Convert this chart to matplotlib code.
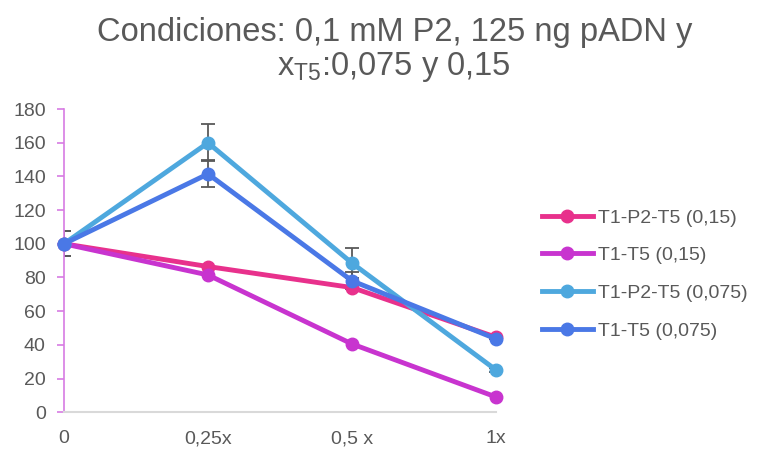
import matplotlib
matplotlib.use("Agg")
import matplotlib.pyplot as plt

plt.rcParams['font.family'] = ['Liberation Sans', 'DejaVu Sans']

categories = ["0", "0,25x", "0,5 x", "1x"]
series_names = ["T1-P2-T5 (0,15)", "T1-T5 (0,15)", "T1-P2-T5 (0,075)", "T1-T5 (0,075)"]
p2_015 = [100, 86.5, 74, 44.5]
t5_015 = [100, 81.5, 40.5, 9]
p2_0075 = [100, 160, 88.5, 25]
t5_0075 = [100, 141.5, 78, 43.5]
err_p2_015 = [0, 0, 0, 0]
err_t5_015 = [0, 0, 0, 0]
err_p2_0075 = [7.5, 11, 9, 1]
err_t5_0075 = [7.5, 8, 5, 0]

colors = ["#E8318C", "#C834CF", "#4EA8DE", "#4A78E6"]
gray = "#595959"

fig = plt.figure(figsize=(7.61, 4.49), dpi=100)
ax = fig.add_axes([0.084, 0.082, 0.568, 0.675])

x = list(range(len(categories)))
all_vals = [p2_015, t5_015, p2_0075, t5_0075]
all_errs = [err_p2_015, err_t5_015, err_p2_0075, err_t5_0075]

# error bars first so the markers sit on top
for vals, errs in zip(all_vals, all_errs):
    if any(errs):
        ax.errorbar(x, vals, yerr=errs, fmt='none', ecolor=gray, elinewidth=1.3,
                    capsize=5, capthick=1.3, zorder=2)

for vals, name, c in zip(all_vals, series_names, colors):
    ax.plot(x, vals, color=c, lw=3.5, marker='o', ms=9, label=name,
            clip_on=False, zorder=3)

ax.set_xlim(0, 3)
ax.set_ylim(0, 180)
ax.set_yticks(range(0, 181, 20))
ax.set_xticks(x)
ax.set_xticklabels(categories)

for s in ["top", "right"]:
    ax.spines[s].set_visible(False)
ax.spines["left"].set_color("#D77BE3")
ax.spines["left"].set_linewidth(1.2)
ax.spines["bottom"].set_color("#D9D9D9")
ax.spines["bottom"].set_linewidth(1.5)

ax.tick_params(axis='y', colors="#D77BE3", labelcolor=gray, labelsize=14, length=5,
               width=1.2, pad=8)
ax.tick_params(axis='x', length=0, labelcolor=gray, labelsize=14, pad=13)

fig.suptitle("Condiciones: 0,1 mM P2, 125 ng pADN y\nx$_{\\mathregular{T5}}$:0,075 y 0,15",
             x=0.518, y=0.963, fontsize=23.5, color=gray, linespacing=1.1)

leg = ax.legend(loc='center left', bbox_to_anchor=(1.106, 0.455), frameon=False,
                fontsize=14, labelcolor=gray, handlelength=2.6, labelspacing=1.03,
                handletextpad=0.26, borderpad=0, borderaxespad=0)

fig.savefig("out.png", dpi=100)
